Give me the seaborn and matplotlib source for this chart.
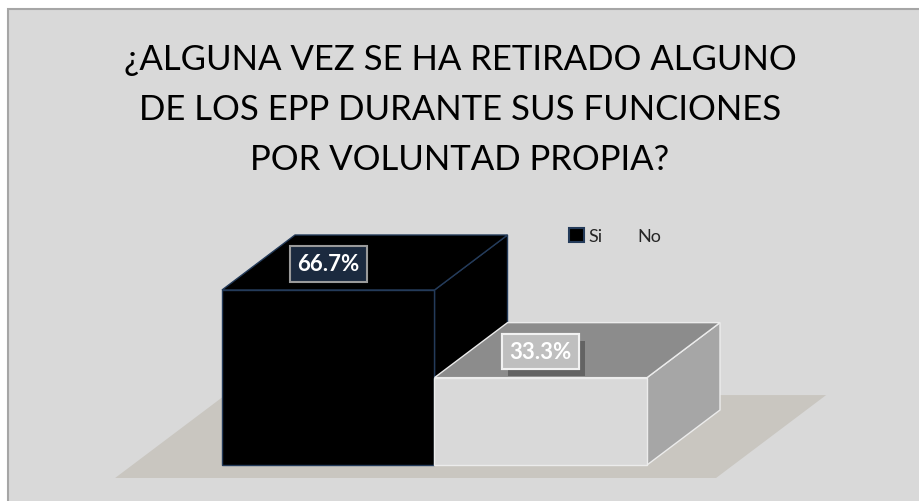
import matplotlib
matplotlib.use("Agg")
import matplotlib.pyplot as plt
import matplotlib.patches as mpatches
import matplotlib.patheffects as pe
import seaborn as sns
import pandas as pd

categories = ["Si", "No"]
values = [66.7, 33.3]
labels = ["66.7%", "33.3%"]
title = "¿ALGUNA VEZ SE HA RETIRADO ALGUNO\nDE LOS EPP DURANTE SUS FUNCIONES\nPOR VOLUNTAD PROPIA?"

front_colors = ["#000000", "#d9d9d9"]
top_colors = ["#000000", "#8c8c8c"]
side_colors = ["#000000", "#a6a6a6"]
edge_colors = ["#243b5a", "#ececec"]
box_faces = ["#1b2a3f", "#bfbfbf"]
box_edges = ["#9a9a9a", "#f2f2f2"]

sns.set_theme(style="white")
plt.rcParams["font.family"] = ["Lato", "DejaVu Sans"]

W, H = 920, 502
fig = plt.figure(figsize=(W / 100, H / 100), dpi=100)
fig.patch.set_facecolor("white")
fig.add_artist(mpatches.Rectangle((8 / W, -0.01), 1.0, (H - 10) / H + 0.01,
                                  transform=fig.transFigure, facecolor="#d9d9d9",
                                  edgecolor="#a6a6a6", linewidth=1.5, zorder=0))

ax = fig.add_axes([222 / W, (H - 466) / H, (647 - 222) / W, (466 - 291) / H])
ax.set_facecolor("none")

df = pd.DataFrame({"cat": categories, "val": values})
sns.barplot(data=df, x="cat", y="val", hue="cat", palette=front_colors,
            width=1.0, ax=ax, legend=False, saturation=1)
ax.set_xlim(-0.5, 1.5)
ax.set_ylim(0, 66.7)
ax.axis("off")

DX, DY = 73 / 212.5, 55 / (175 / 66.7)

# floor
bars = list(ax.patches)
x0 = bars[0].get_x() - 0.503
x1 = bars[-1].get_x() + bars[-1].get_width() + 0.325
fy0, fdx, fdy = -4.95, 0.518, 31.6
floor = mpatches.Polygon([(x0, fy0), (x1, fy0), (x1 + fdx, fy0 + fdy), (x0 + fdx, fy0 + fdy)],
                         closed=True, facecolor="#c9c6c0", edgecolor="none",
                         clip_on=False, zorder=0.5)
ax.add_patch(floor)

for i, b in enumerate(bars):
    bx, bw, bh = b.get_x(), b.get_width(), b.get_height()
    z = 1 + i * 3
    side = mpatches.Polygon([(bx + bw, 0), (bx + bw + DX, DY), (bx + bw + DX, bh + DY), (bx + bw, bh)],
                            closed=True, facecolor=side_colors[i], edgecolor=edge_colors[i],
                            linewidth=1, clip_on=False, zorder=z)
    top = mpatches.Polygon([(bx, bh), (bx + bw, bh), (bx + bw + DX, bh + DY), (bx + DX, bh + DY)],
                           closed=True, facecolor=top_colors[i], edgecolor=edge_colors[i],
                           linewidth=1, clip_on=False, zorder=z + 0.5)
    ax.add_patch(side)
    ax.add_patch(top)
    b.set_edgecolor(edge_colors[i])
    b.set_linewidth(1)
    b.set_zorder(z + 1)
    b.set_clip_on(False)
    t = ax.text(bx + bw / 2, bh + DY / 2 - 0.5, labels[i], ha="center", va="center",
                color="white", fontsize=16, fontweight="bold", zorder=20,
                bbox=dict(boxstyle="square,pad=0.33", facecolor=box_faces[i],
                          edgecolor=box_edges[i], linewidth=1.5))
    if i == 1:
        t.get_bbox_patch().set_path_effects([
            pe.withSimplePatchShadow(offset=(4, -5), shadow_rgbFace="#333333", alpha=0.45),
            pe.Normal()])

fig.text(0.5, (H - 110) / H, title, ha="center", va="center", fontsize=25,
         color="#000000", linespacing=1.68)

handles = [mpatches.Patch(facecolor="#000000", edgecolor="#243b5a", linewidth=1.5),
           mpatches.Patch(facecolor="#d9d9d9", edgecolor="#d9d9d9")]
fig.legend(handles, categories, loc="center left", bbox_to_anchor=(553 / W, 1 - 237 / H),
           ncol=2, frameon=False, fontsize=13, handlelength=0.8, handleheight=0.8,
           handletextpad=0.25, columnspacing=0.9)

fig.savefig("out.png", dpi=100)
